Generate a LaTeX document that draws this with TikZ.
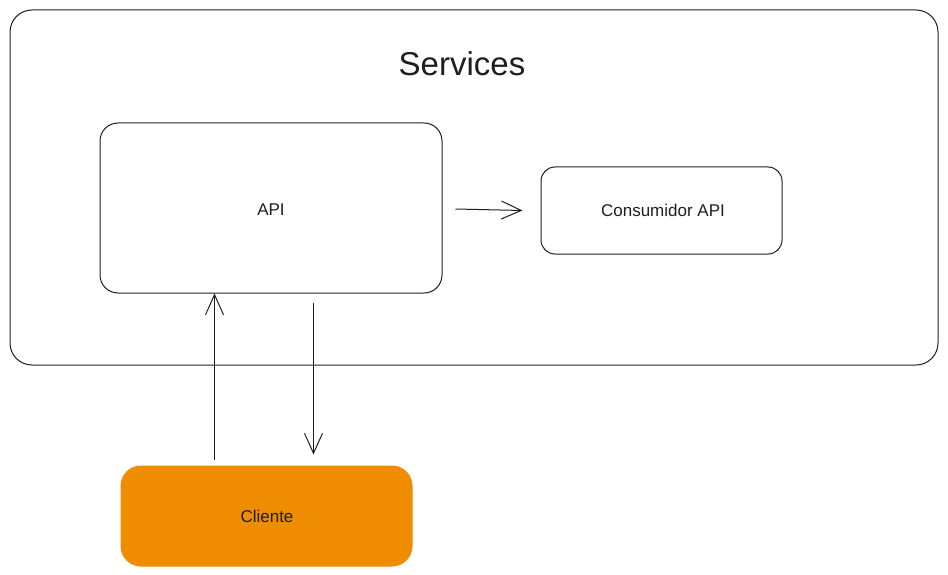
\documentclass[tikz,border=0pt]{standalone}
\usepackage{fontspec}
\setmainfont{Liberation Sans}
\usetikzlibrary{arrows.meta,calc}
\definecolor{ink}{HTML}{1E1E1E}
\definecolor{orangefill}{HTML}{F08C00}
\tikzset{
  box/.style={draw=ink, line width=1pt, rounded corners=18pt, inner sep=0pt},
  arr/.style={draw=ink, line width=1pt, -{Straight Barb[length=20pt,width=18pt,line width=1pt]}},
  lbl/.style={text=ink, font=\fontsize{17}{20}\selectfont}
}
\begin{document}
\begin{tikzpicture}[x=1pt,y=-1pt]
\useasboundingbox (0,0) rectangle (948,575);
\node[box, minimum width=928pt, minimum height=355pt, rounded corners=22pt] (services) at (474,187.5) {};
\node[text=ink, font=\fontsize{33}{40}\selectfont] (servtitle) at (462,64) {Services};
\node[box, minimum width=342pt, minimum height=170pt] (api) at (271,208) {};
\node[lbl] (apilbl) at (271,210) {API};
\node[box, minimum width=241pt, minimum height=87pt, rounded corners=14pt] (cons) at (661.5,210.5) {};
\node[lbl] (conslbl) at (663,210) {Consumidor API};
\node[box, draw=orangefill, fill=orangefill, minimum width=291pt, minimum height=100pt, rounded corners=20pt] (cliente) at (266.5,516) {};
\node[lbl] (clilbl) at (267,516) {Cliente};
\coordinate (a1s) at ($(api.east)+(13,1)$);
\coordinate (a1e) at ($(cons.west)+(-18,0)$);
\draw[arr] (a1s) -- (a1e);
\coordinate (upS) at ($(cliente.north west)+(94,-6)$);
\draw[arr] (upS) -- (upS |- api.south);
\coordinate (dnS) at ($(api.south west)+(214,9)$);
\coordinate (dnE) at ($(cliente.north west)+(193,-11)$);
\draw[arr] (dnS) -- (dnE);
\end{tikzpicture}
\end{document}
